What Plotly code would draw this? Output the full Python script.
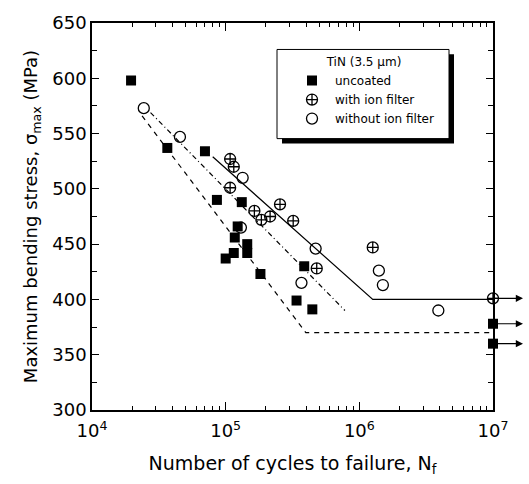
import numpy as np
import plotly.graph_objects as go

# --- measured fatigue data: cycles to failure and max bending stress (MPa) ---
uncoated_N = [1.96e4, 3.66e4, 7.0e4, 8.6e4, 1.32e5, 1.23e5, 1.17e5, 1.45e5,
              1.45e5, 1.0e5, 1.15e5, 1.82e5, 3.87e5, 3.39e5, 4.45e5, 1e7, 1e7]
uncoated_S = [598, 537, 534, 490, 488, 466, 456, 450,
              442, 437, 442, 423, 430, 399, 391, 378, 360]

ion_filter_N = [1.08e5, 1.15e5, 1.08e5, 1.64e5, 1.85e5, 2.15e5, 2.55e5,
                3.2e5, 4.8e5, 1.26e6, 1e7]
ion_filter_S = [527, 520, 501, 480, 472, 475, 486, 471, 428, 447, 401]

no_filter_N = [2.44e4, 4.55e4, 1.34e5, 1.30e5, 4.71e5, 3.69e5, 1.4e6, 1.5e6, 3.9e6]
no_filter_S = [573, 547, 510, 465, 446, 415, 426, 413, 390]

# run-outs (no failure at 1e7 cycles), marked with arrows
runout_N = [1e7, 1e7, 1e7]
runout_S = [401, 378, 360]

# --- S-N fit lines ---
fit_ion_N = [8.0e4, 1.26e6, 1e7]
fit_ion_S = [529, 400, 400]
fit_noion_N = [2.74e4, 7.8e5]
fit_noion_S = [569, 390]
fit_unc_N = [2.37e4, 3.98e5, 1e7]
fit_unc_S = [566, 370, 370]

x_ticks = [1e4, 1e5, 1e6, 1e7]
x_ticktext = ["10<sup>4</sup>", "10<sup>5</sup>", "10<sup>6</sup>", "10<sup>7</sup>"]
x_minor = [m * 10 ** k for k in range(4, 7) for m in range(2, 10)]
y_ticks = [300, 350, 400, 450, 500, 550, 600, 650]

FONT = "DejaVu Sans, Arial, sans-serif"

fig = go.Figure()

line_style = dict(color="black", width=1.2)
fig.add_trace(go.Scatter(x=fit_ion_N, y=fit_ion_S, mode="lines",
                         line=line_style, showlegend=False, hoverinfo="skip"))
fig.add_trace(go.Scatter(x=fit_noion_N, y=fit_noion_S, mode="lines",
                         line=dict(line_style, dash="5px,3px,1px,3px"),
                         showlegend=False, hoverinfo="skip"))
fig.add_trace(go.Scatter(x=fit_unc_N, y=fit_unc_S, mode="lines",
                         line=dict(line_style, dash="5px,5px"),
                         showlegend=False, hoverinfo="skip"))

fig.add_trace(go.Scatter(
    x=uncoated_N, y=uncoated_S, mode="markers", name="uncoated",
    marker=dict(symbol="square", size=10, color="black"), cliponaxis=False))
fig.add_trace(go.Scatter(
    x=ion_filter_N, y=ion_filter_S, mode="markers", name="with ion filter",
    marker=dict(symbol="circle-cross-open", size=11, color="black",
                line=dict(width=1.3)), cliponaxis=False))
fig.add_trace(go.Scatter(
    x=no_filter_N, y=no_filter_S, mode="markers", name="without ion filter",
    marker=dict(symbol="circle-open", size=11, color="black",
                line=dict(width=1.3)), cliponaxis=False))

# plot-area geometry in pixels
L, T = 92, 15
W, H = 401, 395
def px_x(p):
    return (p - L) / W
def px_y(p):
    return 1 - (p - T) / H

# run-out arrows pointing past the 1e7 limit (right edge of the axes)
arrow_len = 30
for n, s in zip(runout_N, runout_S):
    fig.add_annotation(x=1 + arrow_len / W, y=s, xref="paper", yref="y",
                       ax=-arrow_len, ay=0,
                       showarrow=True, arrowhead=2, arrowsize=1.2,
                       arrowwidth=1.2, arrowcolor="black", text="")

axis_common = dict(showline=True, linecolor="black", linewidth=1.5,
                   mirror="allticks", ticks="inside", tickcolor="black",
                   showgrid=False, zeroline=False,
                   tickfont=dict(family=FONT, size=18, color="black"))

fig.update_xaxes(type="log", range=[4, 7], tickvals=x_ticks, ticktext=x_ticktext,
                 ticklen=8, tickwidth=1.2, ticklabelstandoff=4,
                 minor=dict(tickvals=x_minor, ticks="inside", ticklen=4,
                            tickcolor="black", tickwidth=1),
                 title=dict(text="Number of cycles to failure, N<sub>f</sub>",
                            font=dict(family=FONT, size=19, color="black"),
                            standoff=16),
                 **axis_common)
fig.update_yaxes(range=[300, 650], tickvals=y_ticks, ticklen=7, tickwidth=1.2,
                 minor=dict(dtick=25, ticks="inside", ticklen=5,
                            tickcolor="black", tickwidth=1),
                 title=dict(text="Maximum bending stress, σ<sub>max</sub> (MPa)",
                            font=dict(family=FONT, size=18, color="black"),
                            standoff=10),
                 **axis_common)

# legend frame with a drop shadow
fig.add_shape(type="rect", xref="paper", yref="paper",
              x0=px_x(282), x1=px_x(454), y0=px_y(138), y1=px_y(47),
              fillcolor="black", line=dict(width=0), layer="above")
fig.add_shape(type="rect", xref="paper", yref="paper",
              x0=px_x(277), x1=px_x(449), y0=px_y(133), y1=px_y(42),
              fillcolor="white", line=dict(color="black", width=1), layer="above")

fig.update_layout(
    width=529, height=484,
    margin=dict(l=L, r=529 - L - W, t=T, b=484 - T - H),
    paper_bgcolor="white", plot_bgcolor="white",
    font=dict(family=FONT, color="black"),
    legend=dict(x=px_x(289), y=px_y(43), xanchor="left", yanchor="top",
                bgcolor="rgba(0,0,0,0)", borderwidth=0,
                font=dict(family=FONT, size=12, color="black"),
                title=dict(text="TiN (3.5 μm)", side="top center",
                           font=dict(family=FONT, size=12, color="black")),
                itemwidth=36, tracegroupgap=0),
    showlegend=True,
)

fig.write_html("out.html")
